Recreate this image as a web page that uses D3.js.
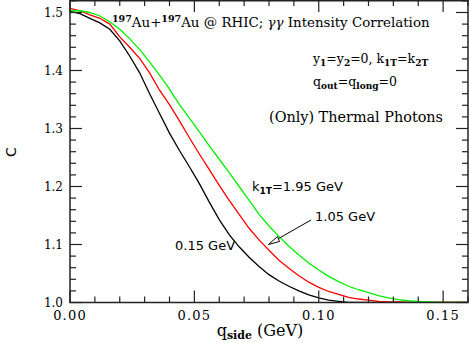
<!DOCTYPE html>
<html>
<head>
<meta charset="utf-8">
<script src="https://cdn.jsdelivr.net/npm/d3@7"></script>
<style>
  body { margin: 0; background: #fff; }
  text { fill: #000; }
</style>
</head>
<body>
<svg width="469" height="343"></svg>
<script>
// q_side (GeV) sample points, shared by all curves
var qside = [0, 0.004, 0.008, 0.012, 0.016, 0.020, 0.024, 0.028, 0.032, 0.036, 0.040,
  0.044, 0.048, 0.052, 0.056, 0.060, 0.064, 0.068, 0.072, 0.076, 0.080, 0.084, 0.088,
  0.092, 0.096, 0.100, 0.104, 0.108, 0.112, 0.116, 0.120, 0.124, 0.128, 0.132, 0.136,
  0.140, 0.145, 0.150, 0.160];

// C values
var c015 = [1.502, 1.498, 1.490, 1.482, 1.471, 1.451, 1.425, 1.396, 1.360, 1.326, 1.292,
  1.262, 1.234, 1.205, 1.173, 1.143, 1.117, 1.096, 1.078, 1.062, 1.048, 1.037, 1.028,
  1.020, 1.013, 1.008, 1.004, 1.002, 1.000, 1.000, 1.000, 1.000, 1.000, 1.000, 1.000,
  1.000, 1.000, 1.000, 1.000];
var c105 = [1.507, 1.503, 1.496, 1.490, 1.480, 1.458, 1.440, 1.421, 1.396, 1.366, 1.341,
  1.313, 1.284, 1.256, 1.229, 1.202, 1.176, 1.152, 1.128, 1.108, 1.090, 1.073, 1.059,
  1.046, 1.035, 1.026, 1.019, 1.014, 1.009, 1.006, 1.004, 1.002, 1.001, 1.001, 1.000,
  1.000, 1.000, 1.000, 1.000];
var c195 = [1.503, 1.503, 1.500, 1.494, 1.484, 1.471, 1.455, 1.436, 1.415, 1.392, 1.368,
  1.341, 1.318, 1.294, 1.270, 1.247, 1.224, 1.200, 1.176, 1.152, 1.132, 1.114, 1.097,
  1.082, 1.068, 1.056, 1.045, 1.036, 1.028, 1.022, 1.017, 1.012, 1.008, 1.005, 1.003,
  1.002, 1.001, 1.000, 1.000];

var xTicks = [0, 0.05, 0.10, 0.15];
var yTicks = [1.0, 1.1, 1.2, 1.3, 1.4, 1.5];

var svg = d3.select("svg");
var x = d3.scaleLinear().domain([0, 0.16]).range([70, 468]);
var y = d3.scaleLinear().domain([1.0, 1.52]).range([302.5, 0.9]);

var serif = "'DejaVu Serif', serif";
var sans = "'DejaVu Sans', sans-serif";

svg.append("defs").append("clipPath").attr("id", "clip")
  .append("rect").attr("x", 70).attr("y", 0).attr("width", 398).attr("height", 302.5);

// curves
var line = d3.line()
  .x(function (d) { return x(d[0]); })
  .y(function (d) { return y(d[1]); });

var curves = [
  { vals: c015, color: "#000000" },
  { vals: c105, color: "#ff0000" },
  { vals: c195, color: "#00f000" }
];
curves.forEach(function (c) {
  svg.append("path")
    .datum(qside.map(function (q, i) { return [q, c.vals[i]]; }))
    .attr("clip-path", "url(#clip)")
    .attr("d", line)
    .attr("fill", "none")
    .attr("stroke", c.color)
    .attr("stroke-width", 1.3);
});

// ticks, inward on all four sides
var xMinor = d3.range(0, 0.1601, 0.01);
var yMinor = d3.range(1.0, 1.5201, 0.02);
var tk = svg.append("g").attr("stroke", "#222").attr("stroke-width", 1.2);
xMinor.forEach(function (v) {
  var major = xTicks.some(function (t) { return Math.abs(t - v) < 1e-6; });
  var len = major ? 12 : 6;
  tk.append("line").attr("x1", x(v)).attr("x2", x(v)).attr("y1", y.range()[0]).attr("y2", y.range()[0] - len);
  tk.append("line").attr("x1", x(v)).attr("x2", x(v)).attr("y1", 0).attr("y2", len);
});
yMinor.forEach(function (v) {
  var major = yTicks.some(function (t) { return Math.abs(t - v) < 1e-6; });
  var len = major ? 12 : 6;
  tk.append("line").attr("x1", 70).attr("x2", 70 + len).attr("y1", y(v)).attr("y2", y(v));
  tk.append("line").attr("x1", 468).attr("x2", 468 - len).attr("y1", y(v)).attr("y2", y(v));
});

// frame
svg.append("rect")
  .attr("x", 70).attr("y", 0.75).attr("width", 398).attr("height", 301.75)
  .attr("fill", "none").attr("stroke", "#222").attr("stroke-width", 1.5);

// tick labels
svg.selectAll(".xl").data(xTicks).enter().append("text")
  .attr("x", function (d) { return x(d); })
  .attr("y", 320)
  .attr("text-anchor", "middle")
  .attr("font-family", serif).attr("font-size", 13)
  .attr("letter-spacing", 1.2)
  .text(function (d) { return d3.format(".2f")(d); });

svg.selectAll(".yl").data(yTicks).enter().append("text")
  .attr("x", 63)
  .attr("y", function (d) { return y(d) + 4.5; })
  .attr("text-anchor", "end")
  .attr("font-family", serif).attr("font-size", 12)
  .text(function (d) { return d3.format(".1f")(d); });

// axis titles
var xt = svg.append("text").attr("x", 260).attr("y", 336).attr("text-anchor", "middle")
  .attr("font-family", serif).attr("font-size", 16);
xt.append("tspan").text("q");
xt.append("tspan").attr("dy", 3).attr("font-size", 11).attr("font-weight", "bold").text("side");
xt.append("tspan").attr("dy", -3).text(" (GeV)");

svg.append("text")
  .attr("transform", "translate(16,152) rotate(-90)")
  .attr("text-anchor", "middle")
  .attr("font-family", sans).attr("font-size", 14)
  .text("C");

// annotations
var t1 = svg.append("text").attr("x", 112).attr("y", 27)
  .attr("font-family", serif).attr("font-size", 13.4);
t1.append("tspan").attr("dy", -5).attr("font-size", 9.5).attr("font-weight", "bold").text("197");
t1.append("tspan").attr("dy", 5).text("Au+");
t1.append("tspan").attr("dy", -5).attr("font-size", 9.5).attr("font-weight", "bold").text("197");
t1.append("tspan").attr("dy", 5).text("Au @ RHIC; ");
t1.append("tspan").attr("font-style", "italic").text("\u03b3\u03b3");
t1.append("tspan").text(" Intensity Correlation");

var t2 = svg.append("text").attr("x", 313).attr("y", 63)
  .attr("font-family", serif).attr("font-size", 12.5);
t2.append("tspan").text("y");
t2.append("tspan").attr("dy", 3).attr("font-size", 9).attr("font-weight", "bold").text("1");
t2.append("tspan").attr("dy", -3).text("=y");
t2.append("tspan").attr("dy", 3).attr("font-size", 9).attr("font-weight", "bold").text("2");
t2.append("tspan").attr("dy", -3).text("=0, k");
t2.append("tspan").attr("dy", 3).attr("font-size", 9).attr("font-weight", "bold").text("1T");
t2.append("tspan").attr("dy", -3).text("=k");
t2.append("tspan").attr("dy", 3).attr("font-size", 9).attr("font-weight", "bold").text("2T");

var t3 = svg.append("text").attr("x", 313).attr("y", 86)
  .attr("font-family", serif).attr("font-size", 12.5);
t3.append("tspan").text("q");
t3.append("tspan").attr("dy", 3).attr("font-size", 9).attr("font-weight", "bold").text("out");
t3.append("tspan").attr("dy", -3).text("=q");
t3.append("tspan").attr("dy", 3).attr("font-size", 9).attr("font-weight", "bold").text("long");
t3.append("tspan").attr("dy", -3).text("=0");

svg.append("text").attr("x", 443).attr("y", 122).attr("text-anchor", "end")
  .attr("font-family", serif).attr("font-size", 14.4)
  .text("(Only) Thermal Photons");

var t4 = svg.append("text").attr("x", 252).attr("y", 191)
  .attr("font-family", sans).attr("font-size", 13);
t4.append("tspan").text("k");
t4.append("tspan").attr("dy", 3).attr("font-size", 9).attr("font-weight", "bold").text("1T");
t4.append("tspan").attr("dy", -3).text("=1.95 GeV");

svg.append("text").attr("x", 315).attr("y", 221)
  .attr("font-family", sans).attr("font-size", 13).text("1.05 GeV");
svg.append("text").attr("x", 175).attr("y", 250)
  .attr("font-family", sans).attr("font-size", 13).text("0.15 GeV");

// arrow to the 1.05 GeV curve
svg.append("line")
  .attr("x1", 311).attr("y1", 220).attr("x2", 276).attr("y2", 240)
  .attr("stroke", "#000").attr("stroke-width", 1);
svg.append("path")
  .attr("d", "M268.5,244.5 L277.5,236.5 L279.5,241.5 Z")
  .attr("fill", "#fff").attr("stroke", "#000").attr("stroke-width", 1);
</script>
</body>
</html>
